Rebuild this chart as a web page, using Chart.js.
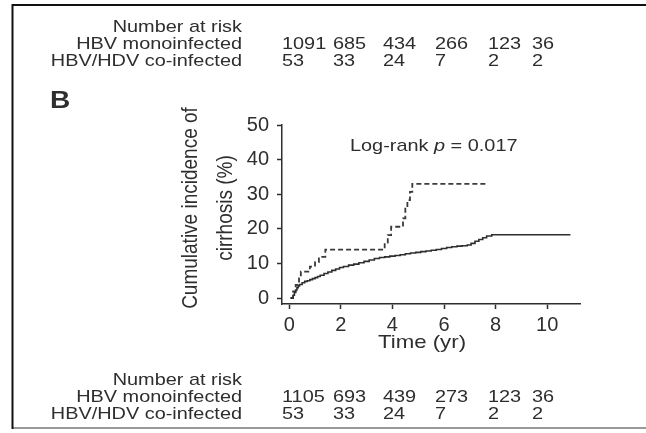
<!DOCTYPE html>
<html>
<head>
<meta charset="utf-8">
<script src="https://cdn.jsdelivr.net/npm/chart.js@4.4.1/dist/chart.umd.min.js"></script>
<style>
  html, body { margin: 0; padding: 0; background: #fff; }
  canvas { display: block; }
</style>
</head>
<body>
<canvas id="kmChart" width="646" height="433"></canvas>
<script>
// Cumulative incidence of cirrhosis, HBV mono vs HBV/HDV co-infection
const xTicks = [0, 2, 4, 6, 8, 10];
const yTicks = [0, 10, 20, 30, 40, 50];

const monoTime = [0.05, 0.15, 0.2, 0.25, 0.3, 0.35, 0.4, 0.5, 0.6, 0.7, 0.8, 0.9, 1.0, 1.1, 1.2, 1.35,
    1.5, 1.65, 1.8, 1.95, 2.1, 2.3, 2.5, 2.7, 2.9, 3.1, 3.3, 3.5, 3.7, 3.9, 4.1, 4.3, 4.5, 4.7, 4.9,
    5.1, 5.3, 5.5, 5.7, 5.9, 6.1, 6.3, 6.5, 6.7, 6.9, 7.05, 7.2, 7.35, 7.5, 7.65, 7.85, 10.9];
const monoIncidence = [0, 0.8, 1.6, 2.3, 3.0, 3.5, 3.9, 4.4, 4.8, 5.0, 5.3, 5.6, 5.9, 6.2, 6.6, 7.1,
    7.5, 8.0, 8.4, 8.8, 9.1, 9.5, 9.8, 10.2, 10.6, 11.0, 11.4, 11.7, 11.9, 12.1, 12.3, 12.5, 12.8, 13.0, 13.2,
    13.4, 13.6, 13.8, 14.0, 14.3, 14.6, 14.8, 15.0, 15.1, 15.3, 15.8, 16.4, 16.9, 17.4, 17.9, 18.3, 18.3];

const coTime = [0.05, 0.15, 0.25, 0.38, 0.45, 0.8, 1.0, 1.15, 1.4, 3.7, 3.82, 3.95, 4.41, 4.5, 4.58, 4.68, 4.77, 7.65];
const coIncidence = [0, 1.9, 3.8, 5.7, 7.6, 9.1, 10.4, 11.9, 14.0, 16.0, 18.2, 20.6, 23.0, 25.8, 28.3, 30.7, 33.0, 33.0];

const riskLabels = ['Number at risk', 'HBV monoinfected', 'HBV/HDV co-infected'];
const riskMonoTop = ['1091', '685', '434', '266', '123', '36'];
const riskMonoBottom = ['1105', '693', '439', '273', '123', '36'];
const riskCo = ['53', '33', '24', '7', '2', '2'];

const ink = '#2e2e2e';
const FONT = "'Liberation Sans', Arial, sans-serif";
const STRETCH = 1.17;
const riskCols = [282, 333, 383, 435, 488, 532];

function toPoints(xs, ys) {
    return xs.map((x, i) => ({ x: x, y: ys[i] }));
}

function wideText(ctx, text, x, y, align, font) {
    ctx.save();
    ctx.font = font;
    ctx.textAlign = align;
    ctx.textBaseline = 'alphabetic';
    ctx.translate(x, y);
    ctx.scale(STRETCH, 1);
    ctx.fillText(text, 0, 0);
    ctx.restore();
}

function riskTable(ctx, top, monoRow) {
    const f = '17px ' + FONT;
    riskLabels.forEach((lab, i) => wideText(ctx, lab, 242, top + i * 17, 'right', f));
    monoRow.forEach((v, i) => wideText(ctx, v, riskCols[i], top + 17, 'left', f));
    riskCo.forEach((v, i) => wideText(ctx, v, riskCols[i], top + 34, 'left', f));
}

const decorations = {
    id: 'decorations',
    beforeDraw(chart) {
        const ctx = chart.ctx;
        ctx.save();
        ctx.fillStyle = '#fff';
        ctx.fillRect(0, 0, chart.width, chart.height);
        // frame
        ctx.strokeStyle = '#999';
        ctx.lineWidth = 2;
        ctx.beginPath();
        ctx.moveTo(12, 428);
        ctx.lineTo(646, 428);
        ctx.stroke();
        ctx.strokeStyle = '#111';
        ctx.beginPath();
        ctx.moveTo(646, 5);
        ctx.lineTo(12.5, 5);
        ctx.lineTo(12.5, 429);
        ctx.stroke();
        ctx.restore();
    },
    afterDraw(chart) {
        const ctx = chart.ctx;
        ctx.save();
        ctx.fillStyle = ink;

        riskTable(ctx, 32, riskMonoTop);
        riskTable(ctx, 385, riskMonoBottom);

        wideText(ctx, 'B', 50, 108, 'left', 'bold 24px ' + FONT);
        wideText(ctx, 'Time (yr)', 422, 348, 'center', '19px ' + FONT);

        // log-rank annotation, p in italics
        const f = '17px ' + FONT;
        const fi = 'italic 17px ' + FONT;
        let x = 350;
        const parts = [['Log-rank ', f], ['p', fi], [' = 0.017', f]];
        parts.forEach(([t, font]) => {
            ctx.font = font;
            const w = ctx.measureText(t).width * STRETCH;
            wideText(ctx, t, x, 151, 'left', font);
            x += w;
        });

        // y axis title, two rotated lines
        ctx.font = '19px ' + FONT;
        ctx.textAlign = 'center';
        ctx.textBaseline = 'middle';
        [['Cumulative incidence of', 191], ['cirrhosis (%)', 226]].forEach(([t, cx]) => {
            ctx.save();
            ctx.translate(cx, 208);
            ctx.scale(STRETCH, 1);
            ctx.rotate(-Math.PI / 2);
            ctx.fillText(t, 0, 0);
            ctx.restore();
        });
        ctx.restore();
    }
};

const axisStyle = {
    grid: { display: true, drawOnChartArea: false, drawTicks: true, tickLength: 5, tickColor: ink, tickWidth: 1.5 },
    border: { display: true, color: ink, width: 1.5 }
};

new Chart(document.getElementById('kmChart').getContext('2d'), {
    type: 'line',
    data: {
        datasets: [{
            label: 'HBV monoinfected',
            data: toPoints(monoTime, monoIncidence),
            borderColor: ink,
            borderWidth: 1.6,
            pointRadius: 0,
            stepped: 'before',
            fill: false
        }, {
            label: 'HBV/HDV co-infected',
            data: toPoints(coTime, coIncidence),
            borderColor: '#3a3a3a',
            borderWidth: 1.8,
            borderDash: [5, 3],
            pointRadius: 0,
            stepped: 'before',
            fill: false
        }]
    },
    options: {
        responsive: false,
        animation: false,
        events: [],
        layout: { padding: { left: 222, top: 125, right: 66, bottom: 89 } },
        plugins: { legend: { display: false }, tooltip: { enabled: false } },
        scales: {
            x: {
                type: 'linear',
                min: -0.28,
                max: 11.27,
                ...axisStyle,
                afterBuildTicks: s => { s.ticks = xTicks.map(v => ({ value: v })); },
                afterFit: s => { s.height = 40; },
                ticks: { color: ink, font: { family: FONT, size: 20 }, padding: 4, maxRotation: 0 }
            },
            y: {
                type: 'linear',
                min: -1.73,
                max: 50,
                ...axisStyle,
                afterBuildTicks: s => { s.ticks = yTicks.map(v => ({ value: v })); },
                afterFit: s => { s.width = 60; },
                ticks: { color: ink, font: { family: FONT, size: 20 }, padding: 8 }
            }
        }
    },
    plugins: [decorations]
});
</script>
</body>
</html>
